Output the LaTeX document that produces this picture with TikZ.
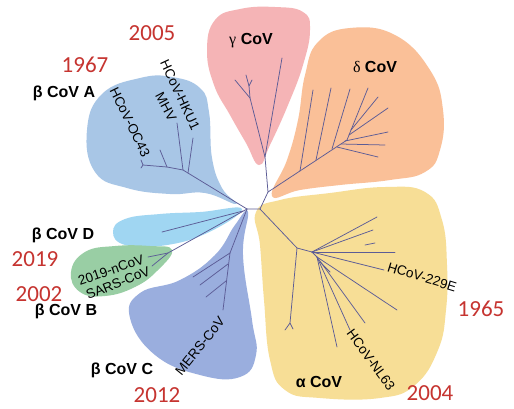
\documentclass[tikz,border=0pt]{standalone}
\usepackage{fontspec}
\setmainfont{Liberation Sans}
\newfontfamily\numfont{Carlito}
\newfontfamily\greekserif{Liberation Serif}
\definecolor{cvred}{RGB}{198,52,48}
\definecolor{treecol}{RGB}{92,92,150}
\definecolor{bA}{RGB}{168,198,230}
\definecolor{gam}{RGB}{245,180,182}
\definecolor{del}{RGB}{250,192,152}
\definecolor{alp}{RGB}{247,222,150}
\definecolor{bD}{RGB}{160,214,242}
\definecolor{bB}{RGB}{153,206,164}
\definecolor{bC}{RGB}{154,174,222}
\begin{document}
\begin{tikzpicture}[x=1pt,y=-1pt,
 br/.style={draw=treecol,line width=0.75pt,line cap=round,line join=round},
 year/.style={font=\numfont\fontsize{23}{23}\selectfont,text=cvred,inner sep=0},
 grp/.style={font=\bfseries\fontsize{16}{16}\selectfont,inner sep=0},
 strain/.style={font=\fontsize{13.5}{13.5}\selectfont,inner sep=0}]
\useasboundingbox (0,0) rectangle (514,408);
\fill[white] (0,0) rectangle (514,408);
% blobs
\fill[bA] plot[smooth cycle, tension=0.75] coordinates {(236,204) (205,193) (170,194) (127,188) (95,172) (87,130) (102,94) (140,78) (172,77) (200,88) (209,112) (212,158) (222,188)};
\fill[gam] plot[smooth cycle, tension=0.75] coordinates {(259,165) (246,143) (230,115) (214,85) (207,50) (215,20) (240,9) (275,7) (303,12) (310,30) (303,65) (288,105) (270,145)};
\fill[del] plot[smooth cycle, tension=0.75] coordinates {(272,196) (287,160) (298,120) (305,75) (318,42) (350,28) (395,35) (430,70) (443,110) (440,150) (425,172) (390,180) (340,185) (300,190)};
\fill[alp] plot[smooth cycle, tension=0.75] coordinates {(256,212) (280,200) (330,193) (385,187) (425,192) (442,220) (447,265) (446,310) (438,350) (415,385) (380,398) (320,398) (285,390) (270,360) (264,300) (260,245)};
\fill[bD] plot[smooth cycle, tension=0.75] coordinates {(242,209) (200,212) (160,214) (125,219) (113,232) (125,245) (160,246) (205,234)};
\fill[bB] plot[smooth cycle, tension=0.75] coordinates {(172,250) (150,246) (115,246) (85,252) (71,272) (80,292) (105,296) (135,287) (158,270)};
\fill[bC] plot[smooth cycle, tension=0.75] coordinates {(248,212) (243,255) (252,320) (256,355) (240,377) (200,375) (155,355) (130,318) (140,293) (180,280) (215,255) (235,225)};
% tree
\coordinate (L) at (247,209);
\coordinate (R) at (260,209);
\coordinate (G) at (268,192);
\coordinate (GA) at (265,157);
\coordinate (DE) at (347,140);
\coordinate (A1) at (297,248);
\coordinate (A2) at (312,252);
\coordinate (A3) at (317,257);
\coordinate (BA) at (183,170);
\coordinate (BB) at (168,253);
\coordinate (BC) at (230,253);
\draw[br] (L) -- (R) -- (G) -- (GA) -- (282,58);
\draw[br] (GA) -- (250,98) -- (235,80);
\draw[br] (250,98) -- (249,86) -- (246,75);
\draw[br] (249,86) -- (252,80);
% delta
\draw[br] (G) -- (DE) -- (368,88);
\draw[br] (300,171) -- (313,90);
\draw[br] (316,160) -- (331,88);
\draw[br] (332,149) -- (350,89);
\draw[br] (351,130) -- (378,97);
\draw[br] (349,135) -- (388,108);
\draw[br] (337,147) -- (378,157);
\draw[br] (341,144) -- (385,145);
\draw[br] (345,141) -- (388,132);
% alpha
\draw[br] (R) -- (A1) -- (A2);
\draw[br] (A1) -- (290,323) -- (285,330);
\draw[br] (290,323) -- (293,329);
\draw[br] (A2) -- (377,217);
\draw[br] (A2) -- (373,230);
\draw[br] (A2) -- (395,252);
\draw[br] (365,245) -- (375,243);
\draw[br] (A2) -- (384,270);
\draw[br] (A2) -- (A3) -- (397,310);
\draw[br] (A3) -- (350,330);
\draw[br] (A3) -- (365,323);
\draw[br] (A3) -- (337,347);
\draw[br] (320,262) -- (330,272);
% beta A
\draw[br] (L) -- (BA) -- (167,167) -- (143,165) -- (141,160);
\draw[br] (143,165) -- (141,168);
\draw[br] (167,167) -- (160,150);
\draw[br] (BA) -- (177,123);
\draw[br] (188,173) -- (193,138);
% beta D
\draw[br] (243,211) -- (162,232);
% beta B
\draw[br] (L) -- (BB) -- (148,257);
\draw[br] (BB) -- (152,266);
% beta C
\draw[br] (L) -- (BC) -- (223,310);
\draw[br] (BC) -- (193,277);
\draw[br] (228,264) -- (200,285);
\draw[br] (226,281) -- (206,297);
% years
\node[year] (y2005) at (152,33) {2005};
\node[year] (y1967) at (85,65) {1967};
\node[year] (y2019) at (35,259) {2019};
\node[year] (y2002) at (39,294) {2002};
\node[year] (y2012) at (157,395) {2012};
\node[year] (y1965) at (481,309) {1965};
\node[year] (y2004) at (430,393) {2004};
% groups
\node[grp] (gA) at (64,93) {β CoV A};
\node[grp] (gG) at (251,41) {{\greekserif\mdseries γ} CoV};
\node[grp] (gDl) at (375,67) {{\greekserif\mdseries δ} CoV};
\node[grp] (gD) at (63,235) {β CoV D};
\node[grp] (gB) at (66,311) {β CoV B};
\node[grp] (gC) at (122,370) {β CoV C};
\node[grp] (gAl) at (319,382) {α CoV};
% strains
\node[strain,rotate=-64] (oc43) at (130,122) {HCoV-OC43};
\node[strain,rotate=-65] (hku1) at (180,95) {HCoV-HKU1};
\node[strain,rotate=-62] (mhv) at (166,107) {MHV};
\node[strain,rotate=19] (ncov) at (111,270) {2019-nCoV};
\node[strain,rotate=22] (sars) at (118,283) {SARS-CoV};
\node[strain,rotate=51] (mers) at (200,346) {MERS-CoV};
\node[strain,rotate=-17] (e229) at (422,277) {HCoV-229E};
\node[strain,rotate=-54] (nl63) at (371,360) {HCoV-NL63};
\end{tikzpicture}
\end{document}
